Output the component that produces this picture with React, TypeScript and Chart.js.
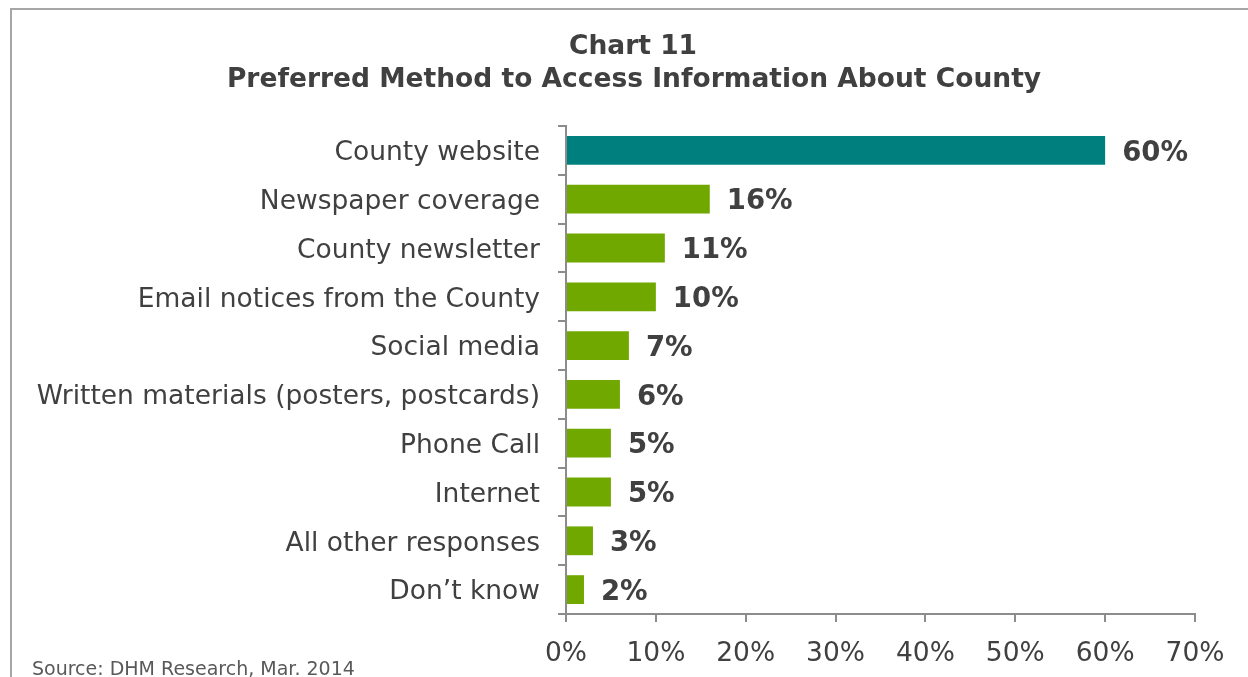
import React, { useEffect, useRef } from "react";
import { Chart, registerables } from "chart.js";

Chart.register(...registerables);

const titleLines = ["Chart 11", "Preferred Method to Access Information About County"];
const sourceText = "Source: DHM Research, Mar. 2014";
const categories = [
  "County website",
  "Newspaper coverage",
  "County newsletter",
  "Email notices from the County",
  "Social media",
  "Written materials (posters, postcards)",
  "Phone Call",
  "Internet",
  "All other responses",
  "Don\u2019t know",
];
const values = [60, 16, 11, 10, 7, 6, 5, 5, 3, 2];
const barColors = ["#007F7F", "#70A800", "#70A800", "#70A800", "#70A800", "#70A800", "#70A800", "#70A800", "#70A800", "#70A800"];
const xMin = 0;
const xMax = 70;
const xStep = 10;

const FONT = "'DejaVu Sans', Verdana, sans-serif";
const TEXT = "#404040";
const AXIS = "#8c8c8c";

const decorPlugin = {
  id: "decor",
  beforeDraw(chart: any) {
    const ctx = chart.ctx;
    ctx.save();
    ctx.fillStyle = "#ffffff";
    ctx.fillRect(0, 0, chart.width, chart.height);
    ctx.strokeStyle = "#a6a6a6";
    ctx.lineWidth = 2;
    ctx.beginPath();
    ctx.moveTo(11, chart.height);
    ctx.lineTo(11, 9);
    ctx.lineTo(chart.width, 9);
    ctx.stroke();
    ctx.fillStyle = TEXT;
    ctx.textAlign = "center";
    ctx.textBaseline = "middle";
    ctx.font = `bold 26.5px ${FONT}`;
    ctx.fillText(titleLines[0], 633, 47);
    ctx.fillText(titleLines[1], 634, 80);
    ctx.fillStyle = "#595959";
    ctx.textAlign = "left";
    ctx.font = `19px ${FONT}`;
    ctx.fillText(sourceText, 32, 670);
    ctx.restore();
  },
  afterDatasetsDraw(chart: any) {
    const ctx = chart.ctx;
    const meta = chart.getDatasetMeta(0);
    ctx.save();
    ctx.fillStyle = TEXT;
    ctx.font = `bold 27.5px ${FONT}`;
    ctx.textAlign = "left";
    ctx.textBaseline = "middle";
    meta.data.forEach((bar: any, i: number) => {
      ctx.fillText(values[i] + "%", bar.x + 17, bar.y + 3);
    });
    ctx.restore();
  },
};

export default function App() {
  const ref = useRef<HTMLCanvasElement | null>(null);
  useEffect(() => {
    if (!ref.current) return;
    const chart = new Chart(ref.current, {
      type: "bar",
      data: {
        labels: categories,
        datasets: [
          {
            data: values,
            backgroundColor: barColors,
            borderWidth: 0,
            barPercentage: 0.59,
            categoryPercentage: 1,
          },
        ],
      },
      options: {
        indexAxis: "y",
        responsive: false,
        animation: false,
        layout: { padding: { top: 126, right: 53, bottom: 0, left: 0 } },
        plugins: { legend: { display: false }, tooltip: { enabled: false }, title: { display: false } },
        scales: {
          y: {
            type: "category",
            offset: true,
            grid: { offset: true, drawOnChartArea: false, drawTicks: true, tickLength: 8, color: AXIS, lineWidth: 2 },
            border: { color: AXIS, width: 2 },
            ticks: { font: { family: FONT, size: 26.5 }, color: TEXT, padding: 18, labelOffset: 3 },
            afterFit: (s: any) => {
              s.width = 566;
            },
          },
          x: {
            type: "linear",
            min: xMin,
            max: xMax,
            grid: { drawOnChartArea: false, drawTicks: true, tickLength: 8, color: AXIS, lineWidth: 2 },
            border: { color: AXIS, width: 2 },
            ticks: {
              stepSize: xStep,
              font: { family: FONT, size: 26.5 },
              color: TEXT,
              padding: 16,
              callback: (v: any) => v + "%",
            },
            afterFit: (s: any) => {
              s.height = 63;
            },
          },
        },
      },
      plugins: [decorPlugin],
    });
    return () => chart.destroy();
  }, []);
  return (
    <div style={{ position: "fixed", left: 0, top: 0, width: 1248, height: 677, background: "#fff" }}>
      <canvas ref={ref} width={1248} height={677} style={{ display: "block" }} />
    </div>
  );
}
